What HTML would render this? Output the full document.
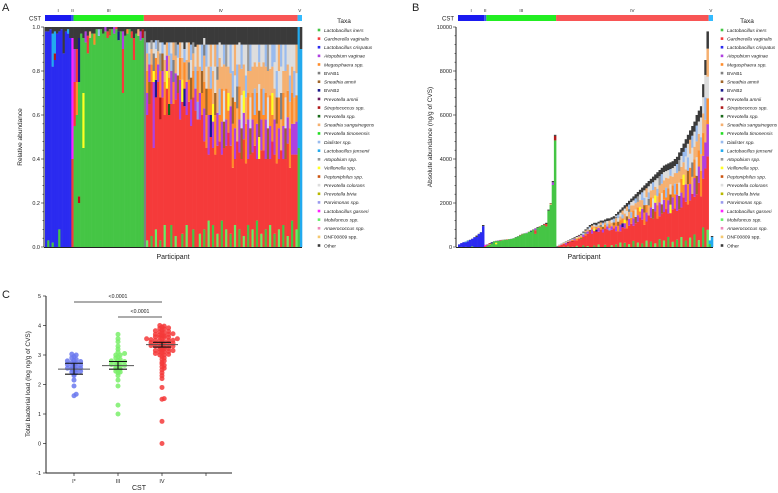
<!DOCTYPE html>
<html><head><meta charset="utf-8"><style>
body{margin:0;background:#fff}svg{display:block;font-family:"Liberation Sans",sans-serif}
</style></head><body>
<svg id="fig" width="778" height="493" viewBox="0 0 778 493"></svg>
<script>
const taxaNames=["Lactobacillus iners","Gardnerella vaginalis","Lactobacillus crispatus","Atopobium vaginae","Megasphaera spp.","BVAB1","Sneathia amnii","BVAB2","Prevotella amnii","Streptococcus spp.","Prevotella spp.","Sneathia sanguinegens","Prevotella timonensis","Dialister spp.","Lactobacillus jensenii","Atopobium spp.","Veillonella spp.","Peptoniphilus spp.","Prevotella colorans","Prevotella bivia","Parvimonas spp.","Lactobacillus gasseri","Mobiluncus spp.","Anaerococcus spp.","DNF00809 spp.","Other"];
const taxaColors=["#45c545","#f53a3a","#2b2bf0","#b040e0","#ff8c2a","#808080","#a0662a","#1a1a8c","#6a1a5a","#b01a1a","#1a6a1a","#f5b070","#22dd22","#99bbee","#22aaee","#999999","#ffff22","#cc5511","#dddddd","#b8b800","#9999ee","#ff22ff","#66ee66","#ee88bb","#f5c870","#3a3a3a"];
const cstNames=["I","II","III","IV","V"];
const cstColors=["#1a1af0","#3355ee","#22ee22","#f85555","#33bbff"];
const cstCounts=[12,1,32,70,2];
const compA=[
[2,98,25,2],[0,3,2,95,25,2],[2,99,25,1],[0,2,2,80,14,15,25,3],[2,85,9,3,14,10,25,2],[2,97,25,3],[0,8,2,90,25,2],[2,99,25,1],[2,88,25,12],[2,98,25,2],[2,97,14,2,25,1],[2,95,25,5],
[1,40,21,55,25,5],
[0,55,1,20,3,15,25,10],[0,60,4,15,1,15,25,10],[0,20,9,3,0,52,7,20,25,5],[0,97,25,3],[0,45,16,25,0,25,25,5],[0,93,3,5,25,2],[0,88,1,8,25,4],[0,95,11,3,25,2],[0,97,25,3],[0,92,4,5,25,3],[0,99,25,1],[0,96,13,3,25,1],[0,99,25,1],[0,97,25,3],[0,98,3,2],[0,95,1,3,25,2],[0,96,6,3,25,1],[0,99,25,1],[0,97,3,3],[0,99,1,1],[0,94,7,4,25,2],[0,98,25,2],[0,70,1,20,3,8,25,2],[0,96,25,4],[0,97,4,2,25,1],[0,99,25,1],[0,95,1,3,25,2],[0,85,1,10,25,5],[0,97,25,3],[0,96,11,3,25,1],[0,94,3,4,25,2],[0,95,9,4,25,1],
[5,98,25,2],
[22,3,1,57,3,10,4,10,11,8,13,5,25,7],[1,65,6,10,3,8,13,5,18,5,25,7],[0,5,1,70,4,8,11,7,15,4,25,6],[1,45,3,30,16,5,5,8,18,5,25,7],[22,8,1,60,7,8,4,10,18,4,13,4,25,6],[1,75,3,8,11,6,15,5,25,6],[0,3,1,55,9,10,4,12,15,8,18,5,25,7],[1,68,3,12,6,8,13,5,25,7],[22,10,1,50,4,15,11,10,18,7,25,8],[1,72,16,8,3,7,11,6,25,7],[1,60,10,5,4,12,11,10,13,6,25,7],[0,10,1,55,3,15,13,8,18,5,25,7],[1,65,4,10,5,10,11,8,25,7],[22,5,1,62,3,12,11,8,15,6,25,7],[1,70,6,8,18,8,13,6,25,8],[1,58,3,18,4,10,11,7,25,7],[0,6,1,60,16,10,11,10,18,7,25,7],[1,64,7,8,4,12,13,6,25,10],[22,10,1,50,3,15,11,10,18,8,25,7],[1,66,4,10,5,8,11,9,25,7],[1,55,3,12,6,10,18,8,13,7,25,8],[0,8,1,60,4,12,11,8,15,5,25,7],[1,62,3,10,13,10,18,9,25,9],[1,58,20,8,4,14,11,12,25,8],[22,6,1,52,3,12,11,12,18,10,25,8],[1,60,4,10,6,10,13,12,25,8],
[0,8,1,40,3,15,4,12,11,12,5,5,18,3,25,5],[1,45,4,15,6,12,18,10,13,10,25,8],[22,12,1,30,3,18,4,12,11,10,18,10,25,8],[1,50,7,10,4,12,13,10,11,10,25,8],[0,10,1,35,3,12,16,8,11,15,18,12,25,8],[1,42,4,18,6,10,18,12,11,10,25,8],[22,6,1,40,3,15,11,15,5,6,13,10,25,8],[1,48,4,12,13,12,11,14,18,7,25,7],[0,12,1,30,3,15,4,15,11,10,18,10,25,8],[1,45,6,12,18,14,11,12,13,9,25,8],[22,8,1,38,3,12,4,14,11,10,15,10,25,8],[1,52,4,10,16,8,11,12,18,10,25,8],[0,6,1,40,3,18,11,15,13,13,25,8],[1,36,4,20,6,12,13,12,18,12,25,8],[22,10,1,30,3,14,4,12,18,12,11,14,25,8],[1,48,11,15,5,10,13,10,18,9,25,8],[0,8,1,35,3,15,4,15,11,10,18,10,25,7],[1,40,6,14,18,15,11,12,13,11,25,8],[22,5,1,44,3,12,16,10,11,12,18,9,25,8],[1,38,4,18,11,12,13,10,18,14,25,8],[0,10,1,30,3,18,4,12,11,10,15,12,25,8],[1,42,6,12,18,14,11,12,13,12,25,8],[22,8,1,35,3,15,4,12,11,12,18,10,25,8],[1,46,4,14,13,12,11,12,18,8,25,8],[0,12,1,28,3,16,4,14,11,12,18,10,25,8],[1,40,16,10,6,12,18,12,11,10,13,8,25,8],[22,6,1,38,3,14,4,14,11,10,18,10,25,8],[1,44,4,16,13,12,11,12,18,8,25,8],[0,8,1,32,3,18,4,12,11,12,13,10,25,8],[1,40,6,14,18,14,11,12,15,12,25,8],[22,10,1,30,3,15,4,14,11,12,18,11,25,8],[1,48,4,12,16,10,11,12,13,10,25,8],[0,6,1,36,3,16,11,14,18,12,13,8,25,8],[1,38,4,18,6,12,13,12,18,12,25,8],[22,8,1,32,3,14,4,14,18,12,11,12,25,8],[1,44,11,14,5,12,18,12,13,10,25,8],[0,10,1,30,3,15,4,15,11,10,18,12,25,8],[1,40,6,14,18,14,11,12,13,12,25,8],[22,5,1,42,3,12,4,12,11,12,18,9,25,8],[1,36,4,18,11,12,13,12,18,14,25,8],[0,12,1,30,3,14,4,14,11,12,18,10,25,8],[1,42,3,14,11,12,13,12,18,12,25,8],[22,8,1,34,3,15,4,12,18,10,11,13,25,8],
[0,45,14,55],[14,90,25,10]];
const totalsB=[120,180,220,250,300,330,380,450,520,600,680,1000,
100,
120,180,220,260,280,300,320,330,340,350,360,380,400,450,500,550,600,620,650,700,750,800,850,900,950,1000,1050,1100,1700,2000,3000,5100,
50,100,150,200,250,300,350,400,450,500,550,600,700,800,900,1000,1050,1100,1100,1150,1200,1200,1250,1300,1300,1350,1400,1500,1600,1700,1800,1900,2000,2100,2200,2300,2400,2500,2600,2700,2800,2900,3000,3100,3200,3300,3400,3500,3600,3700,3750,3800,3850,3900,4000,4100,4300,4500,4700,4900,5100,5300,5500,5700,6000,6200,6400,7400,8500,9800,
300,500];
const ticksA=["0.0","0.2","0.4","0.6","0.8","1.0"];
const ticksB=["0","2000","4000","6000","8000","10000"];
const cCats=["I*","III","IV",""];
const ticksC=["-1","0","1","2","3","4","5"];
const loadI=[1.62,1.67,1.95,2.15,2.3,2.35,2.4,2.42,2.45,2.48,2.5,2.52,2.55,2.55,2.58,2.6,2.62,2.65,2.68,2.7,2.72,2.75,2.78,2.8,2.82,2.85,2.9,2.95,3.0,3.03];
const loadIII=[1.0,1.3,1.95,2.15,2.3,2.4,2.42,2.45,2.5,2.52,2.55,2.58,2.6,2.62,2.65,2.68,2.7,2.72,2.75,2.78,2.8,2.82,2.85,2.9,2.95,3.0,3.0,3.05,3.1,3.2,3.3,3.45,3.55,3.7];
const loadIV=[0.0,0.75,1.5,1.52,1.9,2.2,2.3,2.4,2.5,2.55,2.6,2.65,2.7,2.75,2.8,2.85,2.9,2.95,3.0,3.0,3.02,3.05,3.08,3.1,3.1,3.12,3.15,3.15,3.18,3.2,3.2,3.22,3.25,3.25,3.28,3.3,3.3,3.3,3.32,3.35,3.35,3.38,3.4,3.4,3.4,3.42,3.45,3.45,3.48,3.5,3.5,3.5,3.52,3.55,3.55,3.58,3.6,3.6,3.6,3.62,3.65,3.65,3.68,3.7,3.7,3.72,3.75,3.75,3.78,3.8,3.82,3.85,3.88,3.9,3.92,3.95,3.98,4.0];
const cMeans=[2.52,2.64,3.35];
const cLo=[2.35,2.52,3.27];
const cHi=[2.72,2.78,3.43];
const cDotColors=["#6a78ee","#7aee6a","#f53a3a"];

const NS="http://www.w3.org/2000/svg";
const svg=document.getElementById('fig');
function mk(tag,attrs,parent,txt){const e=document.createElementNS(NS,tag);for(const k in attrs)e.setAttribute(k,attrs[k]);if(txt!==undefined)e.textContent=txt;(parent||svg).appendChild(e);return e;}
function txt(x,y,s,size,anchor,name,extra){const t=mk('text',Object.assign({x:x,y:y,'font-size':size,'text-anchor':anchor||'start',fill:'#222'},extra||{}),svg,s);


return t;}

function stackPanel(px0,px1,yTop,yBot,heightFrac,prefix){
  const n=compA.length,bw=(px1-px0)/n;
  const g=mk('g',{});
  
  
  compA.forEach((row,i)=>{
    let sum=0;for(let k=1;k<row.length;k+=2)sum+=row[k];
    const H=(yBot-yTop)*heightFrac(i);
    let y=yBot;
    for(let k=0;k<row.length;k+=2){
      const h=H*row[k+1]/sum;
      const r=mk('rect',{x:px0+i*bw,y:y-h,width:bw+0.3,height:h,fill:taxaColors[row[k]]},g);
      
      
      y-=h;
    }
  });
  let start=0;
  cstCounts.forEach((c,j)=>{
    const r=mk('rect',{x:px0+start*bw,y:15,width:c*bw,height:6,fill:cstColors[j]});
    
    
    txt(px0+(start+c/2)*bw,12,cstNames[j],4.5,'middle',prefix+'-cst-label');
    start+=c;
  });
  txt(px0-4,20.5,'CST',6,'end',prefix+'-cst-title');
}
function yAxis(ax,yTop,yBot,labels,name){
  const l=mk('line',{x1:ax,y1:yTop,x2:ax,y2:yBot,stroke:'#222','stroke-width':1});
  
  
  const n=labels.length-1;
  for(let i=0;i<=n*5;i++){const y=yBot-(yBot-yTop)*i/(n*5);mk('line',{x1:ax,y1:y,x2:ax-(i%5?1.5:3),y2:y,stroke:'#222','stroke-width':0.6});}
  labels.forEach((s,i)=>{txt(ax-4,yBot-(yBot-yTop)*i/n+2,s,5.5,'end',name+'-y-tick-label');});
}
function legend(mx,y0,name){
  txt(mx+25,23,'Taxa',6.5,'middle',name+'-legend-title');
  taxaNames.forEach((s,i)=>{
    const y=y0+i*8.62;
    const r=mk('rect',{x:mx-1.3,y:y-1.3,width:2.6,height:2.6,fill:taxaColors[i]});
    
    
    txt(mx+5,y+1.8,s,4.8,'start',name+'-legend-entry',{'font-style':(s.startsWith('BVAB')||s.startsWith('DNF')||s==='Other')?'normal':'italic'});
  });
}

txt(2,11,'A',11,'start','panel-a-label');
stackPanel(45,302,27,247,()=>1,'panel-a');
yAxis(44,27,247,ticksA,'panel-a');
mk('line',{x1:44,y1:247.5,x2:302,y2:247.5,stroke:'#222','stroke-width':1});
txt(173,259,'Participant',7,'middle','panel-a-x-title');
txt(0,0,'Relative abundance',6.5,'middle','panel-a-y-title',{transform:'translate(22,137) rotate(-90)'});
legend(319,30,'panel-a');

txt(412,11,'B',11,'start','panel-b-label');
const yBmax=10000;
stackPanel(458,713,27,247,i=>totalsB[i]/yBmax,'panel-b');
yAxis(456,27,247,ticksB,'panel-b');
mk('line',{x1:456,y1:247.5,x2:713,y2:247.5,stroke:'#222','stroke-width':1});
txt(584,259,'Participant',7,'middle','panel-b-x-title');
txt(0,0,'Absolute abundance (ng/g of CVS)',6.5,'middle','panel-b-y-title',{transform:'translate(432,137) rotate(-90)'});
legend(722,30,'panel-b');

txt(2,298,'C',11,'start','panel-c-label');
const cx0=46,cxStep=44,cyTop=296,cyBot=473,cMin=-1,cMax=5;
const cy=v=>cyBot-(v-cMin)/(cMax-cMin)*(cyBot-cyTop);
const cxC=i=>cx0+28+i*cxStep;
mk('line',{x1:cx0,y1:cyTop,x2:cx0,y2:cyBot,stroke:'#222','stroke-width':1});
mk('line',{x1:cx0,y1:cyBot,x2:232,y2:cyBot,stroke:'#222','stroke-width':1});
ticksC.forEach((s,i)=>{const v=+s;mk('line',{x1:cx0,y1:cy(v),x2:cx0-3,y2:cy(v),stroke:'#222','stroke-width':0.7});txt(cx0-5,cy(v)+2,s,5.5,'end','panel-c-y-tick-label');});
cCats.forEach((s,i)=>{mk('line',{x1:cxC(i),y1:cyBot,x2:cxC(i),y2:cyBot+3,stroke:'#222','stroke-width':0.7});txt(cxC(i),cyBot+10,s,5.5,'middle','panel-c-x-tick-label');});
txt(139,490,'CST',7,'middle','panel-c-x-title');
txt(0,0,'Total bacterial load (log ng/g of CVS)',6.5,'middle','panel-c-y-title',{transform:'translate(30,384) rotate(-90)'});
[loadI,loadIII,loadIV].forEach((vals,gi)=>{
  const bins={};
  const bs=gi===2?0.1:0.12;
  vals.forEach(v=>{
    const b=Math.round(v/bs);bins[b]=(bins[b]||0)+1;const k=bins[b]-1;
    const off=(k%2?1:-1)*Math.ceil(k/2)*4.4+((bins[b]%2===0&&k===0)?0:0);
    const c=mk('circle',{cx:cxC(gi)+off+(k===0?0:(k%2?-2.2:2.2)),cy:cy(v),r:2.5,fill:cDotColors[gi],'fill-opacity':0.85});
    
    
  });
});
cMeans.forEach((m,i)=>{
  const x=cxC(i);
  const ml=mk('line',{x1:x-16,y1:cy(m),x2:x+16,y2:cy(m),stroke:'#555','stroke-width':1});
  
  
  const e=mk('path',{d:`M${x-9},${cy(cHi[i])}H${x+9}M${x},${cy(cHi[i])}V${cy(cLo[i])}M${x-9},${cy(cLo[i])}H${x+9}`,stroke:'#111','stroke-width':1.1,fill:'none'});
  
  
});
mk('line',{x1:cxC(0),y1:302,x2:cxC(2),y2:302,stroke:'#222','stroke-width':0.8});
txt(cxC(1),298,'<0.0001',5.2,'middle','panel-c-pvalue-1');
mk('line',{x1:cxC(1),y1:317,x2:cxC(2),y2:317,stroke:'#222','stroke-width':0.8});
txt((cxC(1)+cxC(2))/2,313,'<0.0001',5.2,'middle','panel-c-pvalue-2');
</script>
</body></html>
